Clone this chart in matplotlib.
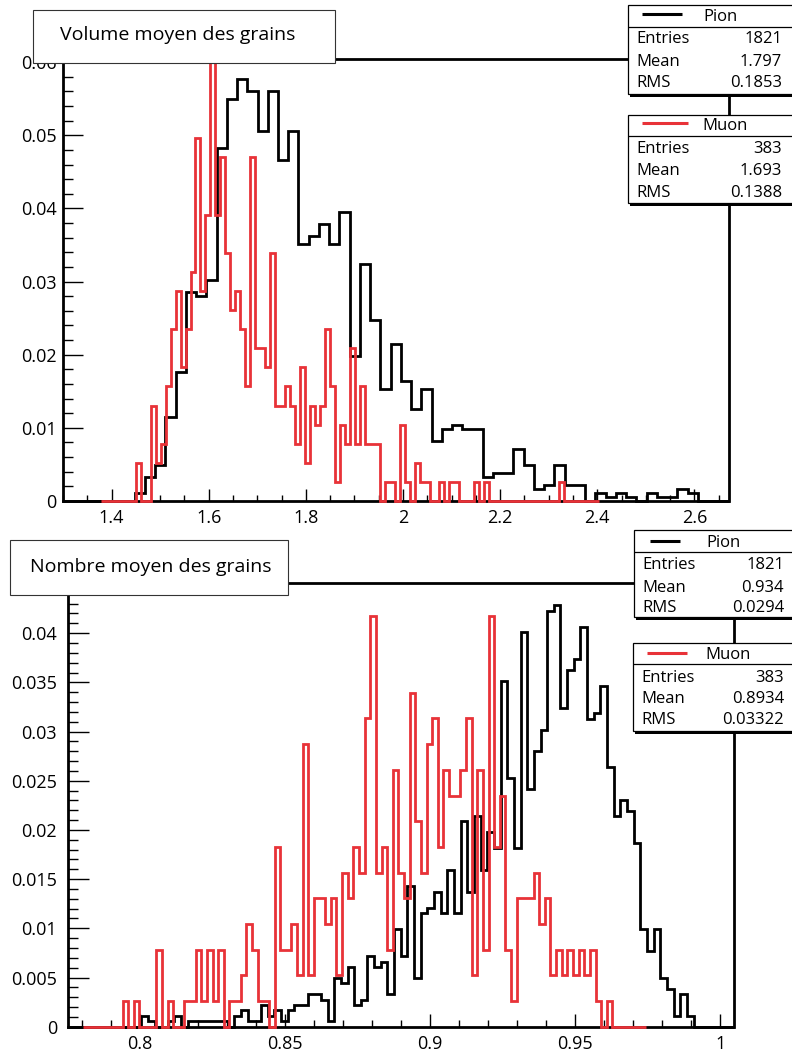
import numpy as np
import matplotlib
matplotlib.use('Agg')
import matplotlib.pyplot as plt
from matplotlib.patches import Rectangle
from matplotlib.lines import Line2D
from matplotlib.ticker import MultipleLocator, FuncFormatter

W, H = 792, 1051
RED = '#e83238'
plt.rcParams['font.family'] = ['Open Sans', 'DejaVu Sans']

# ---- top panel: volume moyen des grains (bin counts)
vol_pion_range = (1.3, 2.67)
vol_pion = [0, 0, 0, 0, 0, 0, 0,
            2, 6, 9, 21, 32, 52, 51, 55,
            88, 100, 105, 102, 92, 102, 85, 92,
            64, 66, 69, 64, 72, 36, 59, 45,
            28, 39, 30, 23, 28, 15, 18, 19,
            18, 18, 6, 7, 7, 13, 9, 3,
            4, 9, 4, 4, 0, 2, 1, 2,
            1, 0, 2, 1, 1, 3, 2, 0, 0, 0]
vol_muon_range = (1.378, 2.403)
vol_muon = [0, 0, 0, 0, 0, 0, 0, 2, 0, 0,
            5, 2, 3, 6, 9, 11, 7, 9, 12, 19,
            11, 15, 23, 15, 18, 13, 10, 11, 9, 6,
            18, 8, 8, 7, 13, 5, 5, 6, 5, 3,
            7, 2, 5, 4, 5, 9, 6, 1, 4, 3,
            8, 3, 6, 3, 3, 3, 0, 1, 1, 0,
            4, 1, 0, 2, 1, 1, 0, 0, 1, 0,
            1, 1, 0, 0, 0, 1, 0, 1, 0, 0,
            0, 0, 0, 0, 0, 0, 0, 0, 0, 0,
            0, 0, 1, 0, 0, 0, 0, 0, 0, 0]
vol_pion_stats = ['1821', '1.797', '0.1853']
vol_muon_stats = ['383', '1.693', '0.1388']

# ---- bottom panel: nombre moyen des grains
nb_pion_range = (0.7752, 1.0046)
nb_pion = [0, 0, 0, 0, 0, 0, 0, 0, 0, 0,
           0, 2, 1, 0, 0, 1, 2, 0, 1, 1,
           1, 1, 1, 1, 0, 2, 3, 1, 1, 4,
           2, 3, 1, 3, 4, 4, 6, 6, 5, 1,
           9, 8, 11, 4, 5, 13, 11, 12, 6, 18,
           13, 26, 9, 21, 22, 25, 21, 29, 21, 38,
           25, 39, 29, 36, 33, 64, 46, 33, 73, 44,
           51, 55, 77, 78, 59, 66, 68, 74, 57, 58,
           63, 48, 39, 42, 40, 34, 18, 14, 18, 9,
           7, 2, 6, 2, 0, 0, 0, 0, 0, 0]
nb_muon_range = (0.7804, 0.9745)
nb_muon = [0, 0, 0, 0, 0, 0, 0, 1, 0, 1,
           0, 0, 0, 3, 0, 1, 0, 0, 1, 1,
           3, 1, 3, 1, 3, 0, 1, 1, 2, 4,
           3, 1, 1, 0, 7, 3, 3, 4, 2, 11,
           2, 5, 5, 4, 5, 2, 6, 5, 7, 6,
           12, 16, 6, 7, 3, 10, 6, 5, 13, 8,
           6, 11, 12, 7, 10, 9, 9, 10, 12, 2,
           10, 3, 16, 7, 9, 3, 1, 5, 5, 5,
           6, 4, 5, 2, 3, 2, 3, 2, 3, 2,
           3, 1, 0, 1, 0, 0, 0, 0, 0, 0]
nb_pion_stats = ['1821', '0.934', '0.0294']
nb_muon_stats = ['383', '0.8934', '0.03322']

row_names = ['Entries', 'Mean', 'RMS']


def fx(x):
    return x / W


def fy(y):
    return 1 - y / H


def hline(fig, x0, x1, y, color='black', lw=1.0, z=6):
    fig.add_artist(Line2D([fx(x0), fx(x1)], [fy(y), fy(y)], transform=fig.transFigure,
                          color=color, lw=lw, zorder=z, solid_capstyle='butt'))


def rect(fig, x0, y0, x1, y1, fc='white', ec='black', lw=0.8, z=5):
    fig.add_artist(Rectangle((fx(x0), fy(y1)), fx(x1) - fx(x0), fy(y0) - fy(y1),
                             transform=fig.transFigure, fc=fc, ec=ec, lw=lw, zorder=z))


def title_box(fig, x0, y0, x1, y1, text, tx, ty):
    rect(fig, x0, y0, x1, y1, ec='#333333', lw=0.8)
    fig.text(fx(tx), fy(ty), text, fontsize=14, va='center', ha='left', zorder=7)


def stats_box(fig, x0, y0, ysep, y1, name, color, sample, stats, bases, valx):
    rect(fig, x0 + 2, y1 - 1, 800, y1 + 3, fc='black', ec='none', lw=0, z=4)
    rect(fig, x0, y0, 800, y1, lw=0.9)
    hline(fig, x0, 800, ysep, lw=0.9)
    hline(fig, sample[0], sample[1], sample[2], color=color, lw=2.2, z=7)
    fig.text(fx(sample[3]), fy(bases[0]), name, fontsize=12, ha='center', va='baseline', zorder=7)
    for i, (lab, val) in enumerate(zip(row_names, stats)):
        fig.text(fx(x0 + 8.5), fy(bases[i + 1]), lab, fontsize=12, ha='left', va='baseline', zorder=7)
        fig.text(fx(valx), fy(bases[i + 1]), val, fontsize=12, ha='right', va='baseline', zorder=7)


def panel(fig, box, pion, prange, muon, mrange, pstats, mstats, xlim, ylim,
          xmaj, xmin, ymaj, ymin, ylen, xlen, ypad):
    ax = fig.add_axes(box)
    pe = np.linspace(prange[0], prange[1], len(pion) + 1)
    me = np.linspace(mrange[0], mrange[1], len(muon) + 1)
    ax.stairs(np.array(pion) / int(pstats[0]), pe, color='black', lw=2.0, zorder=3, clip_on=False)
    ax.stairs(np.array(muon) / int(mstats[0]), me, color=RED, lw=2.0, zorder=3.5, clip_on=False)
    ax.set_xlim(*xlim)
    ax.set_ylim(*ylim)
    for s in ax.spines.values():
        s.set_linewidth(2.0)
    ax.xaxis.set_major_locator(MultipleLocator(xmaj))
    ax.xaxis.set_minor_locator(MultipleLocator(xmin))
    ax.yaxis.set_major_locator(MultipleLocator(ymaj))
    ax.yaxis.set_minor_locator(MultipleLocator(ymin))
    fmt = FuncFormatter(lambda v, p: f'{v:g}' if abs(v) > 1e-12 else '0')
    ax.xaxis.set_major_formatter(fmt)
    ax.yaxis.set_major_formatter(fmt)
    ax.tick_params(which='both', direction='in', width=1.0, labelsize=13, colors='black')
    ax.tick_params(axis='y', which='major', length=ylen, pad=ypad)
    ax.tick_params(axis='y', which='minor', length=ylen / 2)
    ax.tick_params(axis='x', which='major', length=xlen, pad=6)
    ax.tick_params(axis='x', which='minor', length=xlen / 2)
    return ax


fig = plt.figure(figsize=(W / 100, H / 100), dpi=100)

# top panel
panel(fig, [fx(63), fy(501), (728.5 - 63) / W, (501 - 58.5) / H],
      vol_pion, vol_pion_range, vol_muon, vol_muon_range, vol_pion_stats, vol_muon_stats,
      (1.3, 2.67), (0, 0.0605), 0.2, 0.05, 0.01, 0.002, 14.4, 8.6, 4.5)
title_box(fig, 33, 10, 335, 63, 'Volume moyen des grains', 60, 35)
stats_box(fig, 628, 5, 27.3, 93.5, 'Pion', 'black', (642, 682, 14, 720.7),
          vol_pion_stats, (21.3, 42.7, 66, 87.3), 782)
stats_box(fig, 627.5, 115, 136, 202.7, 'Muon', RED, (642, 688, 122.7, 725),
          vol_muon_stats, (130, 152.7, 175, 196.7), 782)

# bottom panel
panel(fig, [fx(68), fy(1026.7), (733.5 - 68) / W, (1026.7 - 583) / H],
      nb_pion, nb_pion_range, nb_muon, nb_muon_range, nb_pion_stats, nb_muon_stats,
      (0.7752, 1.0046), (0, 0.0451), 0.05, 0.01, 0.005, 0.001, 15.0, 9.4, 8.0)
title_box(fig, 10, 540, 288, 595, 'Nombre moyen des grains', 30, 567)
stats_box(fig, 634, 530, 552.3, 617.3, 'Pion', 'black', (650, 680, 540.7, 724),
          nb_pion_stats, (546.7, 569.3, 591.7, 611.7), 784)
stats_box(fig, 632.7, 642.7, 664, 731, 'Muon', RED, (647, 687, 653.3, 728),
          nb_muon_stats, (659.3, 681.7, 703.3, 724), 784)

fig.savefig('out.png', dpi=100)
